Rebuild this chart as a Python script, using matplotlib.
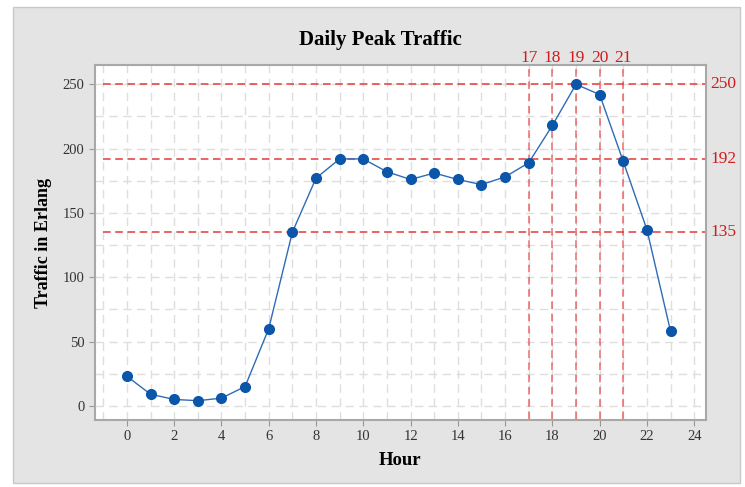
import numpy as np
import matplotlib
matplotlib.use('Agg')
import matplotlib.pyplot as plt
from matplotlib.patches import Rectangle
from matplotlib.ticker import MultipleLocator

# hourly peak traffic (Erlang)
hours = list(range(24))
traffic = [23, 9, 5, 4, 6, 15, 60, 135, 177, 192, 192, 182, 176, 181, 176,
           172, 178, 189, 218, 250, 242, 190, 137, 58]

# reference levels and busy hours marked in red
levels = [250, 192, 135]
busy_hours = [17, 18, 19, 20, 21]

serif = ['Liberation Serif', 'DejaVu Serif']
red = '#e23b3b'
label_red = '#d01c1c'
blue = '#0b56a8'

fig = plt.figure(figsize=(7.45, 4.87), dpi=100)
fig.patch.set_facecolor('white')
# grey panel behind the plot
fig.patches.append(Rectangle((13 / 745, 4 / 487), 727 / 745, 476 / 487,
                             transform=fig.transFigure, facecolor='#e4e4e4',
                             edgecolor='#c8c8c8', lw=1, zorder=-10))

ax = fig.add_axes([95 / 745, 1 - 420 / 487, 611 / 745, 355 / 487])
ax.set_zorder(1)
ax.set_facecolor('white')
ax.set_xlim(-1.35, 24.5)
ax.set_ylim(-11, 265)

ax.xaxis.set_major_locator(MultipleLocator(2))
ax.xaxis.set_minor_locator(MultipleLocator(1))
ax.yaxis.set_major_locator(MultipleLocator(50))
ax.yaxis.set_minor_locator(MultipleLocator(25))
ax.grid(True, which='both', color='#dedede', ls=(0, (6, 4)), lw=1)
ax.set_axisbelow(True)
ax.tick_params(which='minor', length=0)
ax.tick_params(which='major', length=4, color='#999999', labelsize=10.5,
               labelcolor='#333333')
for lab in ax.get_xticklabels() + ax.get_yticklabels():
    lab.set_family(serif)
for s in ax.spines.values():
    s.set_color('#a8a8a8')
    s.set_linewidth(1.5)

# red guide lines
for v in levels:
    ax.plot([-1, 24.5], [v, v], color=red, ls=(0, (5, 3)), lw=1.1,
            clip_on=False, zorder=2)
    ax.text(24.7, v, str(v), color=label_red, fontsize=12.5, family=serif,
            ha='left', va='center')
for h in busy_hours:
    ax.plot([h, h], [-10, 265], color=red, ls=(0, (5, 3)), lw=1.1,
            alpha=0.75, zorder=2)
    ax.text(h, 270.5, str(h), color=label_red, fontsize=12.5, family=serif,
            ha='center', va='center', clip_on=False)

ax.plot(hours, traffic, color='#2e6cb5', lw=1, marker='o', ms=7,
        mfc=blue, mec=blue, zorder=3)

fig.text(0.51, 1 - 40 / 487, 'Daily Peak Traffic', fontsize=15,
         fontweight='bold', family=serif, ha='center', va='center')
ax.set_xlabel('Hour', fontsize=13.5, fontweight='bold', family=serif)
ax.set_ylabel('Traffic in Erlang', fontsize=13, fontweight='bold', family=serif)
ax.xaxis.set_label_coords(0.5, -0.09)
ax.yaxis.set_label_coords(-0.07, 0.5)

fig.savefig('out.png', dpi=100)
